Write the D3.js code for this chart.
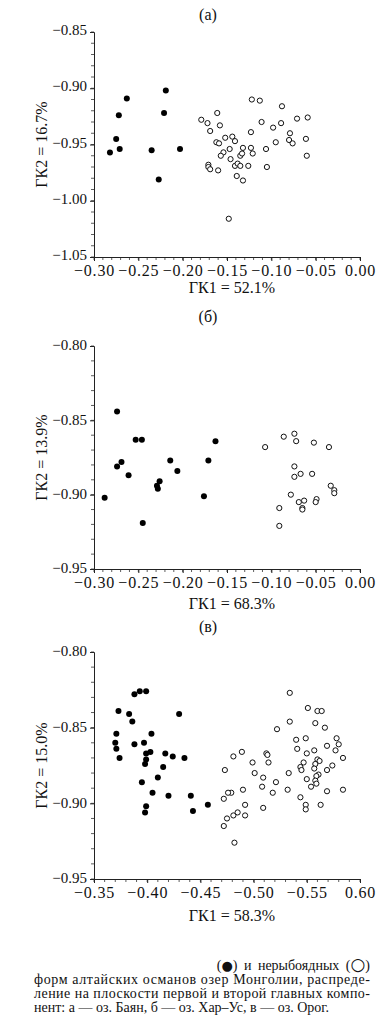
<!DOCTYPE html>
<html><head><meta charset="utf-8">
<script src="https://cdn.jsdelivr.net/npm/d3@7"></script>
<style>
html,body{margin:0;padding:0;background:#fff;}
svg{display:block;}
text{font-family:"Liberation Serif","Times New Roman",serif;fill:#111;}
</style></head>
<body>
<script>
// ---- Panel (a): оз. Баян ----
const aTitle = "(а)";
const aXLabel = "ГК1 = 52.1%";
const aYLabel = "ГК2 = 16.7%";
const aXTicks = [-0.30,-0.25,-0.20,-0.15,-0.10,-0.05,0.00];
const aXTickLabels = ["−0.30","−0.25","−0.20","−0.15","−0.10","−0.05","0.00"];
const aYTicks = [-0.85,-0.90,-0.95,-1.00,-1.05];
const aYTickLabels = ["−0.85","−0.90","−0.95","−1.00","−1.05"];
const aFilled = [[-0.263,-0.909],[-0.219,-0.902],[-0.272,-0.924],[-0.221,-0.922],[-0.275,-0.945],
  [-0.271,-0.954],[-0.282,-0.957],[-0.235,-0.955],[-0.203,-0.954],[-0.227,-0.981]];
const aOpen = [[-0.122,-0.910],[-0.113,-0.911],[-0.088,-0.916],[-0.161,-0.922],[-0.179,-0.928],
  [-0.172,-0.931],[-0.158,-0.933],[-0.111,-0.930],[-0.071,-0.927],[-0.059,-0.926],[-0.089,-0.931],
  [-0.098,-0.935],[-0.169,-0.938],[-0.123,-0.939],[-0.079,-0.940],[-0.152,-0.944],[-0.144,-0.943],
  [-0.162,-0.948],[-0.159,-0.949],[-0.141,-0.947],[-0.095,-0.948],[-0.080,-0.946],[-0.076,-0.949],
  [-0.061,-0.945],[-0.147,-0.954],[-0.132,-0.953],[-0.123,-0.953],[-0.106,-0.954],[-0.154,-0.957],
  [-0.157,-0.960],[-0.135,-0.960],[-0.133,-0.958],[-0.121,-0.958],[-0.146,-0.963],[-0.060,-0.960],
  [-0.171,-0.968],[-0.171,-0.970],[-0.169,-0.972],[-0.160,-0.973],[-0.141,-0.969],[-0.138,-0.967],
  [-0.135,-0.969],[-0.126,-0.969],[-0.105,-0.970],[-0.139,-0.978],[-0.132,-0.982],[-0.148,-1.016]];

// ---- Panel (б): оз. Хар-Ус ----
const bTitle = "(б)";
const bXLabel = "ГК1 = 68.3%";
const bYLabel = "ГК2 = 13.9%";
const bXTicks = [-0.30,-0.25,-0.20,-0.15,-0.10,-0.05,0.00];
const bXTickLabels = ["−0.30","−0.25","−0.20","−0.15","−0.10","−0.05","0.00"];
const bYTicks = [-0.80,-0.85,-0.90,-0.95];
const bYTickLabels = ["−0.80","−0.85","−0.90","−0.95"];
const bFilled = [[-0.274,-0.844],[-0.253,-0.863],[-0.246,-0.863],[-0.163,-0.864],[-0.269,-0.878],
  [-0.274,-0.881],[-0.261,-0.887],[-0.214,-0.877],[-0.171,-0.877],[-0.206,-0.884],[-0.226,-0.891],
  [-0.229,-0.894],[-0.228,-0.896],[-0.288,-0.902],[-0.176,-0.901],[-0.245,-0.919]];
const bOpen = [[-0.107,-0.868],[-0.086,-0.861],[-0.074,-0.859],[-0.072,-0.864],[-0.052,-0.865],
  [-0.035,-0.868],[-0.074,-0.881],[-0.074,-0.888],[-0.067,-0.886],[-0.054,-0.886],[-0.033,-0.894],
  [-0.029,-0.897],[-0.029,-0.899],[-0.078,-0.900],[-0.069,-0.905],[-0.063,-0.904],[-0.049,-0.903],
  [-0.050,-0.905],[-0.065,-0.909],[-0.065,-0.910],[-0.091,-0.909],[-0.091,-0.921]];

// ---- Panel (в): оз. Орог ----
const cTitle = "(в)";
const cXLabel = "ГК1 = 58.3%";
const cYLabel = "ГК2 = 15.0%";
const cXTicks = [-0.35,-0.40,-0.45,-0.50,-0.55,-0.60];
const cXTickLabels = ["−0.35","−0.40","−0.45","−0.50","−0.55","0.60"];
const cYTicks = [-0.80,-0.85,-0.90,-0.95];
const cYTickLabels = ["−0.80","−0.85","−0.90","−0.95"];
const cFilled = [[-0.388,-0.828],[-0.393,-0.826],[-0.399,-0.826],[-0.373,-0.839],[-0.383,-0.841],
  [-0.430,-0.841],[-0.386,-0.846],[-0.371,-0.854],[-0.404,-0.854],[-0.370,-0.860],[-0.388,-0.861],
  [-0.397,-0.860],[-0.371,-0.864],[-0.374,-0.870],[-0.403,-0.866],[-0.399,-0.867],[-0.417,-0.867],
  [-0.424,-0.869],[-0.435,-0.870],[-0.399,-0.871],[-0.398,-0.874],[-0.415,-0.876],[-0.410,-0.883],
  [-0.395,-0.886],[-0.405,-0.893],[-0.420,-0.895],[-0.441,-0.895],[-0.457,-0.901],[-0.399,-0.902],
  [-0.398,-0.906],[-0.443,-0.905]];
const cOpen = [[-0.534,-0.827],[-0.551,-0.837],[-0.560,-0.839],[-0.564,-0.839],[-0.534,-0.846],
  [-0.558,-0.847],[-0.567,-0.850],[-0.522,-0.851],[-0.540,-0.858],[-0.549,-0.857],[-0.578,-0.857],
  [-0.580,-0.861],[-0.569,-0.862],[-0.577,-0.865],[-0.541,-0.864],[-0.557,-0.865],[-0.550,-0.867],
  [-0.584,-0.870],[-0.489,-0.866],[-0.481,-0.869],[-0.512,-0.867],[-0.513,-0.868],[-0.499,-0.873],
  [-0.514,-0.873],[-0.560,-0.871],[-0.562,-0.872],[-0.547,-0.873],[-0.558,-0.874],[-0.544,-0.876],
  [-0.574,-0.875],[-0.557,-0.877],[-0.545,-0.878],[-0.569,-0.878],[-0.473,-0.878],[-0.501,-0.880],
  [-0.533,-0.880],[-0.561,-0.881],[-0.509,-0.883],[-0.559,-0.882],[-0.550,-0.884],[-0.558,-0.885],
  [-0.521,-0.886],[-0.559,-0.887],[-0.508,-0.889],[-0.554,-0.889],[-0.490,-0.891],[-0.532,-0.891],
  [-0.584,-0.891],[-0.479,-0.893],[-0.476,-0.893],[-0.518,-0.893],[-0.569,-0.892],[-0.544,-0.896],
  [-0.472,-0.897],[-0.549,-0.901],[-0.563,-0.901],[-0.492,-0.901],[-0.509,-0.903],[-0.549,-0.904],
  [-0.485,-0.906],[-0.481,-0.908],[-0.492,-0.908],[-0.475,-0.910],[-0.472,-0.915],[-0.482,-0.926]];

// ---- Caption ----
const captionLine1Parts = ["(", "●", ") и нерыбоядных (", "○", ")"];
const captionLines = [
  "форм алтайских османов озер Монголии, распреде-",
  "ление на плоскости первой и второй главных компо-",
  "нент: а — оз. Баян, б — оз. Хар–Ус, в — оз. Орог."
];

const W = 391, H = 1024;
const svg = d3.select("body").append("svg").attr("width", W).attr("height", H);

const panels = [
  {title:aTitle, xl:aXLabel, yl:aYLabel, xt:aXTicks, xtl:aXTickLabels, yt:aYTicks, ytl:aYTickLabels,
   filled:aFilled, open:aOpen, top:32, bottom:257, titleY:20, xtY:276, xlY:293, yDy:"0.18em"},
  {title:bTitle, xl:bXLabel, yl:bYLabel, xt:bXTicks, xtl:bXTickLabels, yt:bYTicks, ytl:bYTickLabels,
   filled:bFilled, open:bOpen, top:346, bottom:569, titleY:322, xtY:588, xlY:609, yDy:"0.26em"},
  {title:cTitle, xl:cXLabel, yl:cYLabel, xt:cXTicks, xtl:cXTickLabels, yt:cYTicks, ytl:cYTickLabels,
   filled:cFilled, open:cOpen, top:652, bottom:879, titleY:632, xtY:898, xlY:921, yDy:"0.26em"}
];

const left = 94, right = 360;

panels.forEach(p => {
  const g = svg.append("g");
  const x = d3.scaleLinear().domain([p.xt[0], p.xt[p.xt.length-1]]).range([left, right]);
  const y = d3.scaleLinear().domain([p.yt[0], p.yt[p.yt.length-1]]).range([p.top, p.bottom]);

  // minor ticks (every 0.01)
  const xMinor = d3.range(0, Math.round(Math.abs(p.xt[p.xt.length-1]-p.xt[0])/0.01)+1)
    .map(i => p.xt[0] + Math.sign(p.xt[p.xt.length-1]-p.xt[0])*i*0.01);
  const yMinor = d3.range(0, Math.round(Math.abs(p.yt[p.yt.length-1]-p.yt[0])/0.01)+1)
    .map(i => p.yt[0] - i*0.01);

  g.selectAll(".xm").data(xMinor).join("line")
    .attr("x1", d => x(d)).attr("x2", d => x(d))
    .attr("y1", p.bottom).attr("y2", p.bottom+3)
    .attr("stroke", "#333").attr("stroke-width", 0.8);
  g.selectAll(".ym").data(yMinor).join("line")
    .attr("y1", d => y(d)).attr("y2", d => y(d))
    .attr("x1", left-3).attr("x2", left)
    .attr("stroke", "#333").attr("stroke-width", 0.8);

  // axes
  const xAxis = d3.axisBottom(x).tickValues(p.xt).tickSize(4).tickFormat((d,i) => p.xtl[i]);
  const yAxis = d3.axisLeft(y).tickValues(p.yt).tickSize(4).tickFormat((d,i) => p.ytl[i]);
  const gx = g.append("g").attr("transform", `translate(0,${p.bottom})`).call(xAxis);
  const gy = g.append("g").attr("transform", `translate(${left},0)`).call(yAxis);
  [gx, gy].forEach(a => {
    a.select(".domain").attr("stroke", "#222").attr("stroke-width", 1);
    a.selectAll(".tick line").attr("stroke", "#222");
    a.selectAll("text").attr("fill", "#111");
  });
  gx.selectAll("text").attr("font-size", 16).attr("letter-spacing", "0.8px")
    .attr("dy", null).attr("y", p.xtY - p.bottom);
  gy.selectAll("text").attr("font-size", 15).attr("x", -7).attr("dy", p.yDy);

  // titles
  g.append("text").attr("x", 208).attr("y", p.titleY).attr("text-anchor", "middle")
    .attr("font-size", 16).text(p.title);
  g.append("text").attr("x", 232).attr("y", p.xlY).attr("text-anchor", "middle")
    .attr("font-size", 16).text(p.xl);
  g.append("text").attr("transform", `translate(47,${(p.top+p.bottom)/2}) rotate(-90)`)
    .attr("text-anchor", "middle").attr("font-size", 16).text(p.yl);

  // points
  g.selectAll(".open").data(p.open).join("circle")
    .attr("cx", d => x(d[0])).attr("cy", d => y(d[1])).attr("r", 2.6)
    .attr("fill", "#fff").attr("stroke", "#111").attr("stroke-width", 1);
  g.selectAll(".filled").data(p.filled).join("circle")
    .attr("cx", d => x(d[0])).attr("cy", d => y(d[1])).attr("r", 3)
    .attr("fill", "#000");
});

// caption
const cap = svg.append("g");
const l1 = cap.append("text").attr("x", 370).attr("y", 970).attr("text-anchor", "end")
  .attr("font-size", 14).attr("word-spacing", "3px");
captionLine1Parts.forEach((t, i) => {
  const ts = l1.append("tspan").text(t);
  if (i === 1) ts.attr("font-family", "DejaVu Sans").attr("font-size", 13);
  if (i === 3) ts.attr("font-family", "DejaVu Sans").attr("font-size", 17);
});
cap.append("text").attr("x", 34).attr("y", 984).attr("font-size", 14)
  .attr("textLength", 336).attr("lengthAdjust", "spacing").text(captionLines[0]);
cap.append("text").attr("x", 34).attr("y", 998).attr("font-size", 14)
  .attr("textLength", 336).attr("lengthAdjust", "spacing").text(captionLines[1]);
cap.append("text").attr("x", 34).attr("y", 1012).attr("font-size", 14).text(captionLines[2]);
</script>
</body></html>
